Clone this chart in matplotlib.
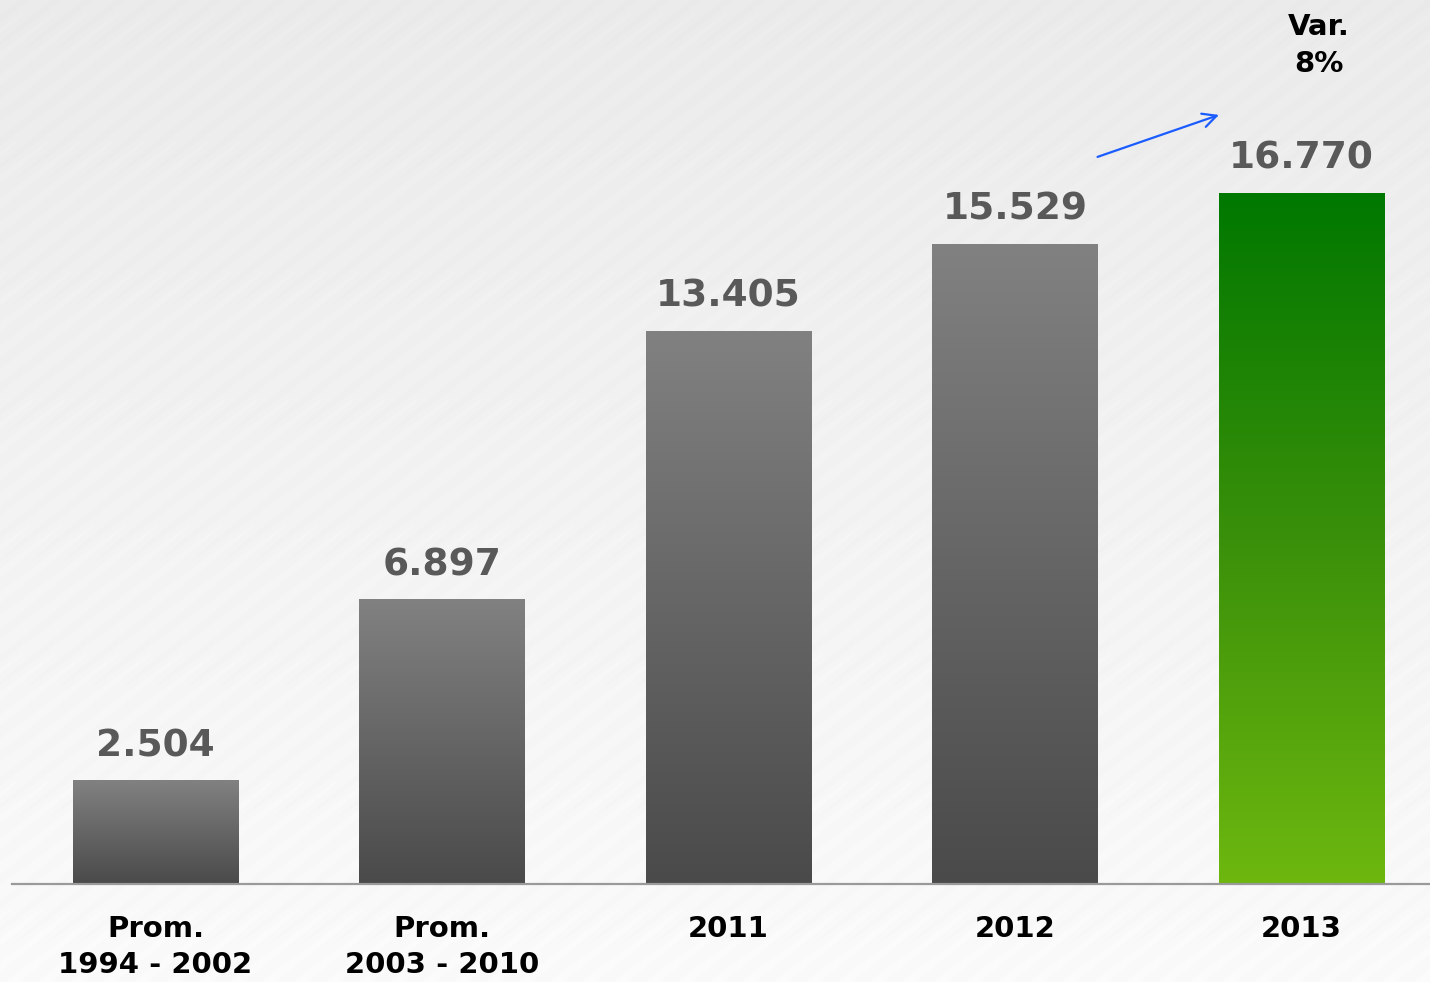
import numpy as np
import matplotlib
matplotlib.use("Agg")
import matplotlib.pyplot as plt
from matplotlib.colors import LinearSegmentedColormap

categories = ["Prom.\n1994 - 2002", "Prom.\n2003 - 2010", "2011", "2012", "2013"]
values = [2504, 6897, 13405, 15529, 16770]
value_labels = ["2.504", "6.897", "13.405", "15.529", "16.770"]
var_label = "Var.\n8%"

W, H = 1430, 982
fig = plt.figure(figsize=(W / 100, H / 100), dpi=100)

# background: light gradient with faint diagonal stripes
bg = fig.add_axes([0, 0, 1, 1], zorder=0)
yy, xx = np.mgrid[0:H, 0:W]
base = 0.92 + 0.06 * (yy / H)
stripes = 0.005 * np.sin((xx + yy * 1.3) * 2 * np.pi / 32.0)
img = np.clip(base + stripes, 0, 1)
bg.imshow(img, cmap="gray", vmin=0, vmax=1, extent=[0, 1, 0, 1], aspect="auto")
bg.axis("off")

ax_bottom = (H - 884) / H
ax = fig.add_axes([12 / W, ax_bottom, 1 - 12 / W, 1 - ax_bottom], zorder=1)
ax.patch.set_alpha(0)

x = np.arange(len(values))
bars = ax.bar(x, values, width=0.576, facecolor="none", edgecolor="none")

gray_cmap = LinearSegmentedColormap.from_list("g", ["#4a4a4a", "#818181"])
green_cmap = LinearSegmentedColormap.from_list("gr", ["#6db70f", "#3a900a", "#007800"])
grad = np.linspace(0, 1, 256).reshape(-1, 1)
for i, b in enumerate(bars):
    cmap = green_cmap if i == len(bars) - 1 else gray_cmap
    x0, w, h = b.get_x(), b.get_width(), b.get_height()
    ax.imshow(grad, cmap=cmap, origin="lower", extent=[x0, x0 + w, 0, h],
              aspect="auto", zorder=2)
    ax.annotate(value_labels[i], (x0 + w / 2, h), xytext=(0, 12),
                textcoords="offset points", ha="center", va="bottom",
                fontsize=27, fontweight="bold", color="#595959", zorder=3)

xmin = (12 - 155.5) / 286.5
xmax = (1430 - 155.5) / 286.5
ax.set_xlim(xmin, xmax)
ax.set_ylim(0, 884 / (691 / 16770))

ax.axhline(0, color="#9a9a9a", lw=1.6, zorder=4, clip_on=False)
for s in ax.spines.values():
    s.set_visible(False)
ax.set_yticks([])
ax.set_xticks(x)
ax.set_xticklabels(categories, fontsize=21, fontweight="bold", color="black",
                   linespacing=1.4, va="top")
ax.tick_params(axis="x", length=0, pad=22)

# variation arrow between 2012 and 2013
b3, b4 = bars[3], bars[4]
ax.annotate("", xy=(b4.get_x() + 0.0, 18665), xytext=(b3.get_x() + b3.get_width(), 17646),
            arrowprops=dict(arrowstyle="->", color="#1a5cff", lw=1.6,
                            mutation_scale=25, shrinkA=0, shrinkB=0), zorder=5)
ax.text(4.06, 21456 - 13 / (691 / 16770), var_label, ha="center", va="top",
        fontsize=21, fontweight="bold", color="black", linespacing=1.4)

fig.savefig("out.png", dpi=100)
